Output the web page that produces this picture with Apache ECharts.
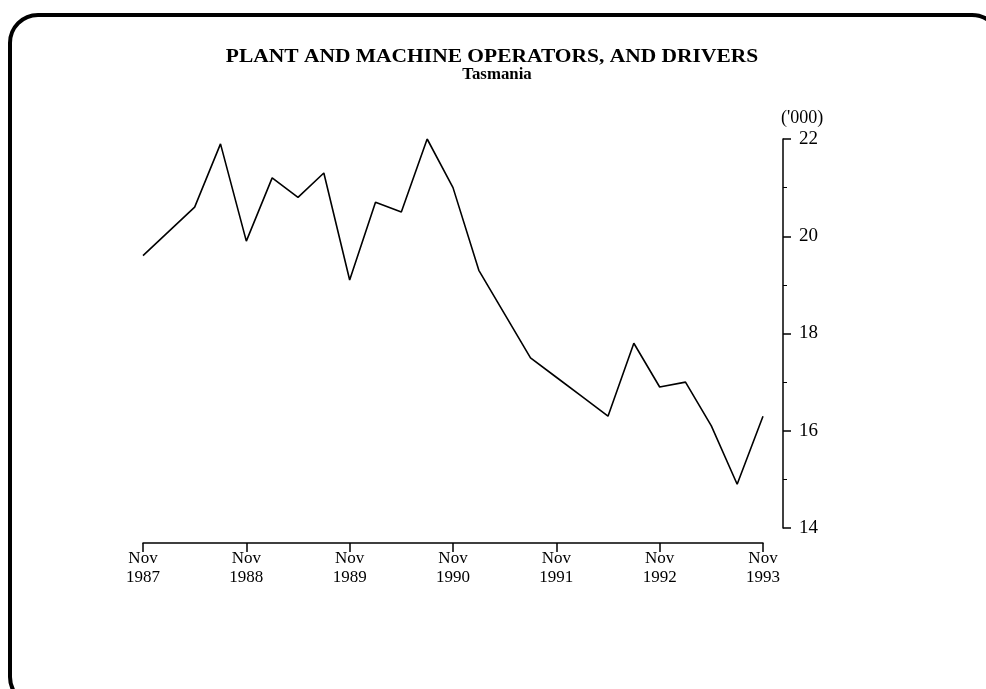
<!DOCTYPE html>
<html>
<head>
<meta charset="utf-8">
<script src="https://cdn.jsdelivr.net/npm/echarts@6/dist/echarts.min.js"></script>
<style>
  html, body { margin: 0; padding: 0; background: #fff; }
  #chart { width: 986px; height: 689px; }
</style>
</head>
<body>
<div id="chart"></div>
<script>
// quarterly, Nov 1987 .. Nov 1993
var quarters = [
    'Nov 1987', 'Feb 1988', 'May 1988', 'Aug 1988',
    'Nov 1988', 'Feb 1989', 'May 1989', 'Aug 1989',
    'Nov 1989', 'Feb 1990', 'May 1990', 'Aug 1990',
    'Nov 1990', 'Feb 1991', 'May 1991', 'Aug 1991',
    'Nov 1991', 'Feb 1992', 'May 1992', 'Aug 1992',
    'Nov 1992', 'Feb 1993', 'May 1993', 'Aug 1993',
    'Nov 1993'
];
var operators = [
    19.6, 20.1, 20.6, 21.9,
    19.9, 21.2, 20.8, 21.3,
    19.1, 20.7, 20.5, 22.0,
    21.0, 19.3, 18.4, 17.5,
    17.1, 16.7, 16.3, 17.8,
    16.9, 17.0, 16.1, 14.9,
    16.3
];
var yTicks = [14, 16, 18, 20, 22];

var serif = '"Liberation Serif", "DejaVu Serif", serif';
var chart = echarts.init(document.getElementById('chart'));

var option = {
    backgroundColor: '#fff',
    animation: false,
    graphic: [{
        type: 'rect',
        shape: { x: 10, y: 15, width: 990, height: 690, r: 28 },
        style: { fill: 'none', stroke: '#000', lineWidth: 4 },
        silent: true
    }, {
        // title is a bit wider in the scan than the plain font
        type: 'text',
        x: 492, y: 57,
        scaleX: 1.13,
        style: {
            text: 'PLANT AND MACHINE OPERATORS, AND DRIVERS',
            font: 'bold 19px ' + serif,
            fill: '#000',
            textAlign: 'center',
            textVerticalAlign: 'middle'
        },
        silent: true
    }, {
        type: 'text',
        x: 497, y: 75,
        scaleX: 1.05,
        style: {
            text: 'Tasmania',
            font: 'bold 16px ' + serif,
            fill: '#000',
            textAlign: 'center',
            textVerticalAlign: 'middle'
        },
        silent: true
    }],
    grid: { left: 143, right: 223, top: 139, bottom: 161 },
    xAxis: {
        type: 'category',
        data: quarters,
        boundaryGap: false,
        offset: 15,
        axisLine: { lineStyle: { color: '#000', width: 1.5 } },
        axisTick: { interval: 3, length: 9, lineStyle: { color: '#000', width: 1.5 } },
        axisLabel: {
            interval: 3,
            margin: 6,
            color: '#000',
            fontFamily: serif,
            fontSize: 17,
            lineHeight: 19,
            formatter: function (v) { return v.replace(' ', '\n'); }
        },
        splitLine: { show: false }
    },
    yAxis: {
        type: 'value',
        position: 'right',
        offset: 20,
        min: yTicks[0],
        max: yTicks[yTicks.length - 1],
        interval: 2,
        name: "('000)",
        nameLocation: 'end',
        nameGap: 12,
        nameTextStyle: { fontFamily: serif, fontSize: 18, color: '#000', align: 'left', padding: [0, 0, 0, -2] },
        axisLine: { show: true, lineStyle: { color: '#000', width: 1.5 } },
        axisTick: { show: true, length: 8, lineStyle: { color: '#000', width: 1.5 } },
        minorTick: { show: true, splitNumber: 2, length: 4, lineStyle: { color: '#000', width: 1 } },
        axisLabel: { margin: 16, color: '#000', fontFamily: serif, fontSize: 19 },
        splitLine: { show: false }
    },
    series: [{
        type: 'line',
        data: operators,
        symbol: 'none',
        lineStyle: { color: '#000', width: 1.6 }
    }]
};
chart.setOption(option);
</script>
</body>
</html>
